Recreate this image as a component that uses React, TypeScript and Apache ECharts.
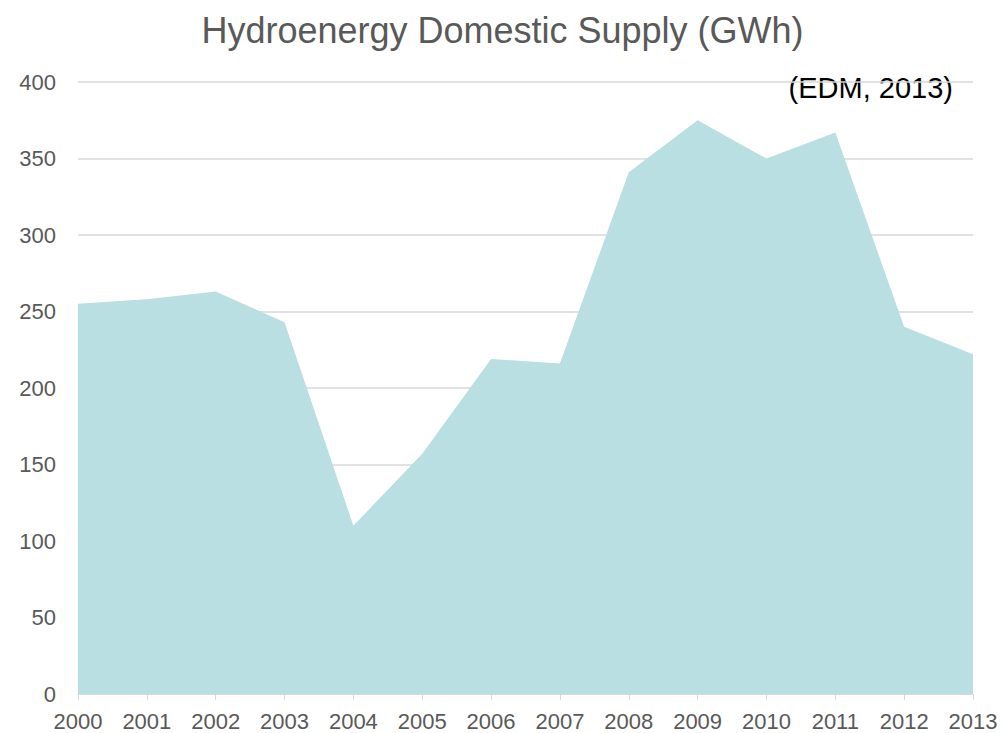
import React, { useEffect, useRef } from "react";
import * as echarts from "echarts";

const years = ["2000","2001","2002","2003","2004","2005","2006","2007","2008","2009","2010","2011","2012","2013"];
const supply = [255, 258, 263, 243, 110, 157, 219, 216, 341, 375, 350, 367, 240, 222];

export default function App() {
  const ref = useRef<HTMLDivElement>(null);
  useEffect(() => {
    const chart = echarts.init(ref.current!, null, { renderer: "svg" });
    chart.setOption({
      animation: false,
      title: {
        text: "Hydroenergy Domestic Supply (GWh)",
        left: "center",
        top: 7,
        textStyle: { fontFamily: "Liberation Sans", fontSize: 36, fontWeight: "normal", color: "#595959" },
      },
      graphic: [
        {
          type: "text",
          x: 953,
          y: 88,
          style: {
            text: "(EDM, 2013)",
            font: "29px 'Liberation Sans'",
            fill: "#000",
            textAlign: "right",
            textVerticalAlign: "middle",
          },
        },
      ],
      grid: { left: 78, right: 32, top: 82, bottom: 39 },
      xAxis: {
        type: "category",
        data: years,
        boundaryGap: false,
        axisLine: { lineStyle: { color: "#d9d9d9", width: 1 } },
        axisTick: { lineStyle: { color: "#d9d9d9" }, length: 6 },
        axisLabel: { color: "#595959", fontFamily: "Liberation Sans", fontSize: 22, margin: 16 },
      },
      yAxis: {
        type: "value",
        min: 0,
        max: 400,
        interval: 50,
        axisLine: { show: false },
        axisTick: { show: false },
        splitLine: { lineStyle: { color: "#d9d9d9", width: 1.5 } },
        axisLabel: { color: "#595959", fontFamily: "Liberation Sans", fontSize: 22, margin: 22 },
      },
      series: [
        {
          type: "line",
          data: supply,
          symbol: "none",
          lineStyle: { width: 0 },
          areaStyle: { color: "#b9dfe2", opacity: 1 },
        },
      ],
    });
    return () => chart.dispose();
  }, []);
  return <div ref={ref} style={{ width: 1005, height: 733, position: "absolute", left: 0, top: 0 }} />;
}
